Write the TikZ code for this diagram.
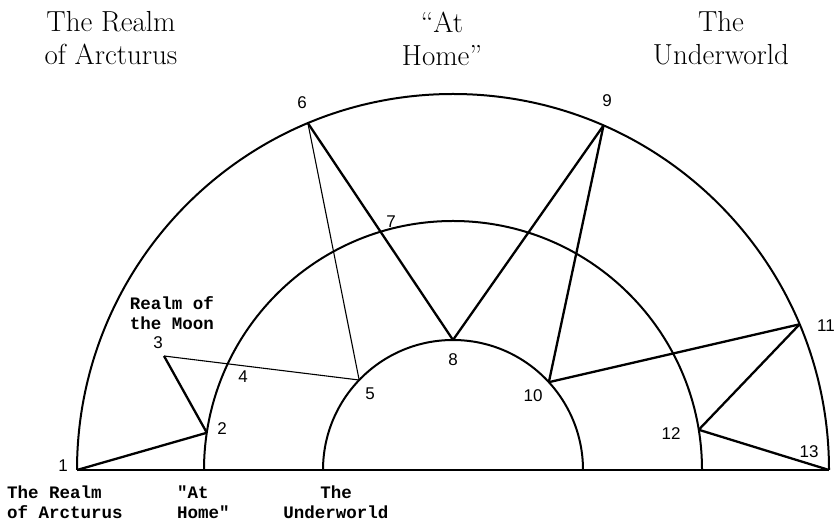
\documentclass[tikz,border=0pt]{standalone}
\usepackage{fontspec}
\newfontfamily\tw{Liberation Mono}
\newfontfamily\hand{Liberation Sans}
\usetikzlibrary{calc}
\begin{document}
\begin{tikzpicture}[x=1pt,y=1pt,
  arcline/.style={line width=2pt},
  thickline/.style={line width=2.3pt},
  thinline/.style={line width=1.1pt},
  num/.style={font=\hand\fontsize{17}{17}\selectfont, inner sep=0pt},
  toplabel/.style={font=\fontsize{29}{33}\selectfont, align=center, inner sep=0pt},
  twlabel/.style={font=\tw\bfseries\fontsize{17.5}{20}\selectfont, inner sep=0pt}
]
\useasboundingbox (0,0) rectangle (834,524);
\coordinate (C) at (453,54);
% points
\coordinate (p1) at ($(C)+(180:376)$);
\coordinate (p13) at ($(C)+(0:376)$);
\coordinate (m1) at ($(C)+(180:249)$);
\coordinate (n1) at ($(C)+(180:130)$);
\coordinate (p2) at ($(C)+(171.4:249)$);
\coordinate (p3) at (164,168);
\coordinate (p5) at ($(C)+(136.2:130)$);
\coordinate (p6) at ($(C)+(112.7:376)$);
\coordinate (p8) at ($(C)+(90:130)$);
\coordinate (p9) at ($(C)+(66.4:376)$);
\coordinate (p10) at ($(C)+(42.5:130)$);
\coordinate (p11) at ($(C)+(22.8:376)$);
\coordinate (p12) at ($(C)+(9.3:249)$);
% arcs and baseline
\draw[arcline] (p1) arc[start angle=180, end angle=0, radius=376];
\draw[arcline] (m1) arc[start angle=180, end angle=0, radius=249];
\draw[arcline] (n1) arc[start angle=180, end angle=0, radius=130];
\draw[arcline] (p1) -- (p13);
% connectors
\draw[thickline] (p1) -- (p2);
\draw[thickline] (p2) -- (p3);
\draw[thinline] (p3) -- (p5);
\draw[thinline] (p5) -- (p6);
\draw[thickline] (p6) -- (p8);
\draw[thickline] (p8) -- (p9);
\draw[thickline] (p9) -- (p10);
\draw[thickline] (p10) -- (p11);
\draw[thickline] (p11) -- (p12);
\draw[thickline] (p12) -- (p13);
% numbers
\node[num] (l1) at (63,58) {1};
\node[num] (l2) at (222,95) {2};
\node[num] (l3) at (158,181) {3};
\node[num] (l4) at (243,147) {4};
\node[num] (l5) at (370,130) {5};
\node[num] (l6) at (302,421) {6};
\node[num] (l7) at (391,302) {7};
\node[num] (l8) at (453,164) {8};
\node[num] (l9) at (607,423) {9};
\node[num] (l10) at (533,128) {10};
\node[num] (l11) at (826,198) {11};
\node[num] (l12) at (671,90) {12};
\node[num] (l13) at (809,72) {13};
% top labels
\node[toplabel] (t1) at (111,485.5) {The Realm\\of Arcturus};
\node[toplabel] (t2) at (442,485.5) {``At\\Home''};
\node[toplabel] (t3) at (721,485.5) {The\\Underworld};
% moon label
\node[twlabel, align=center] (moon) at (172,210.5) {Realm of\\the Moon};
% bottom labels
\node[twlabel, align=left, anchor=west] (b1) at (7,21.5) {The Realm\\of Arcturus};
\node[twlabel, align=left, anchor=west] (b2) at (177,21.5) {"At\\Home"};
\node[twlabel, align=center] (b3) at (336,21.5) {The\\Underworld};
\end{tikzpicture}
\end{document}
